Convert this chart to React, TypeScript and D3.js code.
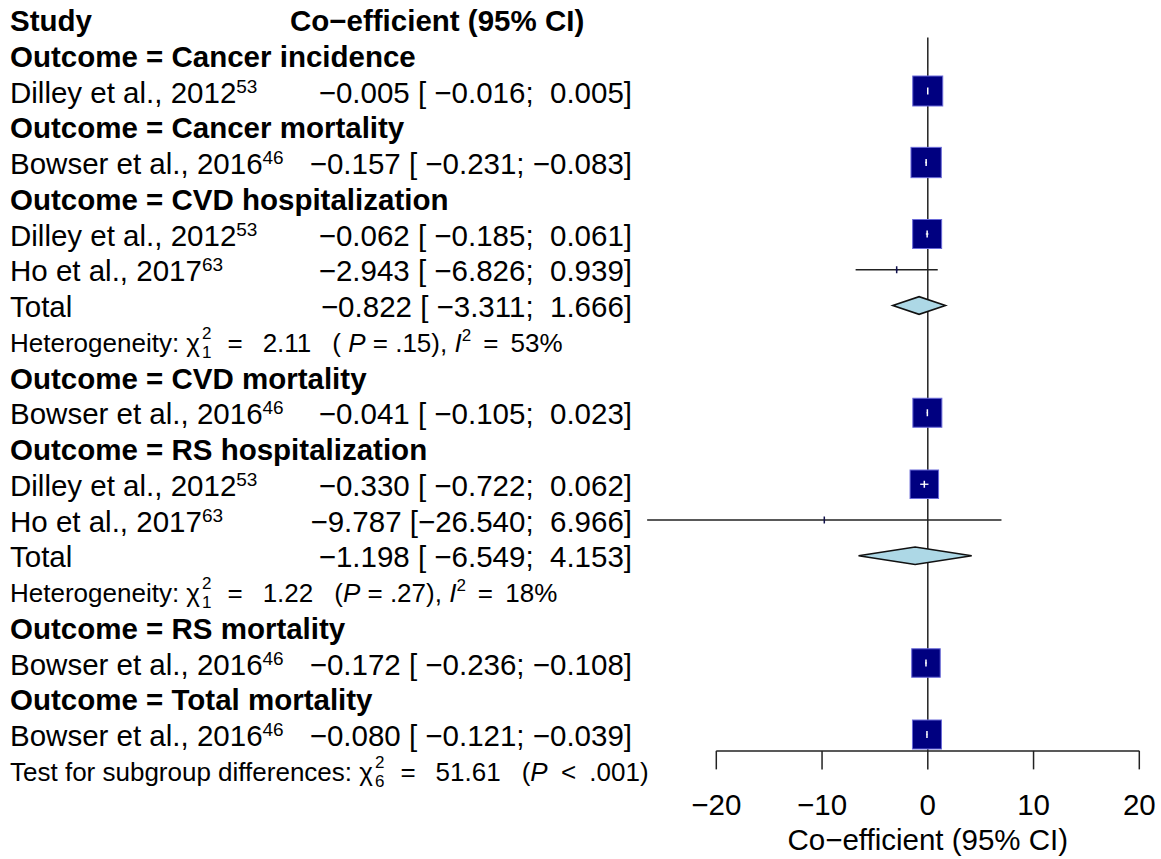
import React from "react";
import * as d3 from "d3";

// ---------- data ----------
const outcomes = [
  "Cancer incidence",
  "Cancer mortality",
  "CVD hospitalization",
  "CVD mortality",
  "RS hospitalization",
  "RS mortality",
  "Total mortality",
];
const studyNames = [
  "Dilley et al., 2012",
  "Bowser et al., 2016",
  "Dilley et al., 2012",
  "Ho et al., 2017",
  "Bowser et al., 2016",
  "Dilley et al., 2012",
  "Ho et al., 2017",
  "Bowser et al., 2016",
  "Bowser et al., 2016",
];
const studyRefs = ["53", "46", "53", "63", "46", "53", "63", "46", "46"];
const studyOutcome = [0, 1, 2, 2, 3, 4, 4, 5, 6];
const estimates = [-0.005, -0.157, -0.062, -2.943, -0.041, -0.33, -9.787, -0.172, -0.08];
const lowers = [-0.016, -0.231, -0.185, -6.826, -0.105, -0.722, -26.54, -0.236, -0.121];
const uppers = [0.005, -0.083, 0.061, 0.939, 0.023, 0.062, 6.966, -0.108, -0.039];
const weights = [98, 100, 91.6, 0.3, 91.6, 88.5, 0.05, 88.5, 91.6];

const pooledOutcome = [2, 4];
const pooledEst = [-0.822, -1.198];
const pooledLower = [-3.311, -6.549];
const pooledUpper = [1.666, 4.153];
const hetChi = ["2.11", "1.22"];
const hetDf = ["1", "1"];
const hetParen = ["( ", "("];
const hetP = [" = .15),", " = .27),"];
const hetI2 = ["53%", "18%"];

const testChi = "51.61";
const testDf = "6";
const testP = ".001)";

const xTicks = [-20, -10, 0, 10, 20];

// ---------- helpers ----------
const MINUS = "\u2212";
const f3 = (v: number) => (v < 0 ? MINUS : "") + Math.abs(v).toFixed(3);
const padL = (s: string, n: number) => (s.length >= n ? s : " ".repeat(n - s.length) + s);
const ciLabel = (e: number, lo: number, up: number) =>
  `${f3(e)} [${padL(f3(lo), 7)}; ${padL(f3(up), 6)}]`;

const FONT = "'Liberation Sans', Arial, Helvetica, sans-serif";

type Row =
  | { type: "head"; r: number; label: string }
  | { type: "study"; r: number; i: number }
  | { type: "total"; r: number; p: number }
  | { type: "het"; r: number; p: number };

const rows: Row[] = [];
{
  let r = 1;
  outcomes.forEach((o, k) => {
    rows.push({ type: "head", r: r++, label: `Outcome = ${o}` });
    studyNames.forEach((_, i) => {
      if (studyOutcome[i] === k) rows.push({ type: "study", r: r++, i });
    });
    pooledOutcome.forEach((po, p) => {
      if (po === k) {
        rows.push({ type: "total", r: r++, p });
        rows.push({ type: "het", r: r++, p });
      }
    });
  });
}
const testRow = rows.length + 1;

export default function App() {
  const W = 1161;
  const H = 859;
  const y = d3.scaleLinear().domain([0, 21]).range([19.5, 19.5 + 21 * 35.75]);
  const x = d3.scaleLinear().domain([-20, 20]).range([716.3, 1139.3]);
  const size = d3.scaleSqrt().domain([0, 100]).range([0, 30.3]);

  const axisY = y(20.5) - 1.5;
  const refTop = y(0.5);
  const lineCol = "#222";
  const fsMain = 29.5;
  const fsHet = 26;
  const fsSup = 17;
  const valueRight = 632;
  const textX = 10;
  const bShift = 11.5;

  const studyMarks = rows.filter((r) => r.type === "study") as { type: "study"; r: number; i: number }[];
  const totals = rows.filter((r) => r.type === "total") as { type: "total"; r: number; p: number }[];

  const hetText = (base: number, label: string, chi: string, df: string, tail: React.ReactNode, key: string) => (
    <text key={key} x={textX} y={base} fontSize={fsHet} style={{ whiteSpace: "pre" }} fill="#000">
      <tspan>{label} </tspan>
      <tspan>χ</tspan>
      <tspan dx={2} dy={-13} fontSize={fsSup}>2</tspan>
      <tspan dx={-9.5} dy={19} fontSize={fsSup}>{df}</tspan>
      <tspan dx={16} dy={-6}>=</tspan>
      <tspan dx={20}>{chi}</tspan>
      {tail}
    </text>
  );

  return (
    <svg
      width={W}
      height={H}
      style={{ position: "absolute", left: 0, top: 0, background: "#fff" }}
      fontFamily={FONT}
    >
      <rect x={0} y={0} width={W} height={H} fill="#fff" />

      {/* headers */}
      <text x={textX} y={y(0) + bShift} fontSize={fsMain} fontWeight="bold">Study</text>
      <text x={290} y={y(0) + bShift} fontSize={fsMain} fontWeight="bold">{`Co${MINUS}efficient (95% CI)`}</text>

      {/* left text rows */}
      {rows.map((row) => {
        const base = y(row.r) + bShift;
        if (row.type === "head") {
          return (
            <text key={"h" + row.r} x={textX} y={base} fontSize={fsMain} fontWeight="bold">
              {row.label}
            </text>
          );
        }
        if (row.type === "study") {
          const i = row.i;
          return (
            <g key={"s" + row.r}>
              <text x={textX} y={base} fontSize={fsMain}>
                {studyNames[i]}
                <tspan dy={-10} fontSize={19}>{studyRefs[i]}</tspan>
              </text>
              <text x={valueRight} y={base} fontSize={fsMain} textAnchor="end" style={{ whiteSpace: "pre" }}>
                {ciLabel(estimates[i], lowers[i], uppers[i])}
              </text>
            </g>
          );
        }
        if (row.type === "total") {
          const p = row.p;
          return (
            <g key={"t" + row.r}>
              <text x={textX} y={base} fontSize={fsMain}>Total</text>
              <text x={valueRight} y={base} fontSize={fsMain} textAnchor="end" style={{ whiteSpace: "pre" }}>
                {ciLabel(pooledEst[p], pooledLower[p], pooledUpper[p])}
              </text>
            </g>
          );
        }
        const p = row.p;
        return hetText(
          base - 1,
          "Heterogeneity:",
          hetChi[p],
          hetDf[p],
          <>
            <tspan dx={21}>{hetParen[p]}</tspan>
            <tspan fontStyle="italic">P</tspan>
            <tspan>{hetP[p] + " "}</tspan>
            <tspan fontStyle="italic">I</tspan>
            <tspan dy={-11} fontSize={fsSup}>2</tspan>
            <tspan dx={12} dy={11}>=</tspan>
            <tspan dx={5}>{" " + hetI2[p]}</tspan>
          </>,
          "het" + row.r
        );
      })}
      {hetText(
        y(testRow) + bShift - 1,
        "Test for subgroup differences:",
        testChi,
        testDf,
        <>
          <tspan dx={21}>(</tspan>
          <tspan fontStyle="italic">P</tspan>
          <tspan dx={6}>{" <"}</tspan>
          <tspan dx={6}>{" " + testP}</tspan>
        </>,
        "test"
      )}

      {/* reference line at 0 */}
      <line x1={x(0)} x2={x(0)} y1={refTop} y2={axisY} stroke={lineCol} strokeWidth={1.5} />

      {/* study CIs and squares */}
      {studyMarks.map((row) => {
        const i = row.i;
        const cy = y(row.r);
        const s = size(weights[i]);
        const cx = x(estimates[i]);
        const x0 = x(lowers[i]);
        const x1 = x(uppers[i]);
        const inside = s > 8;
        const ix0 = Math.max(x0, cx - s / 2);
        const ix1 = Math.min(x1, cx + s / 2);
        return (
          <g key={"m" + row.r}>
            <line x1={x0} x2={x1} y1={cy} y2={cy} stroke={lineCol} strokeWidth={1.5} />
            <rect x={cx - s / 2} y={cy - s / 2} width={s} height={s} fill="#000080" stroke={inside ? "#6a6ad8" : "none"} strokeWidth={1} />
            {inside && ix1 > ix0 && (
              <line x1={ix0} x2={ix1} y1={cy} y2={cy} stroke="#fff" strokeWidth={1.3} />
            )}
            <line x1={cx} x2={cx} y1={cy - 3.5} y2={cy + 3.5} stroke={inside ? "#fff" : "#10104a"} strokeWidth={1.5} />
          </g>
        );
      })}

      {/* pooled diamonds */}
      {totals.map((row) => {
        const p = row.p;
        const cy = y(row.r);
        const h = 8.8;
        const pts = [
          [x(pooledLower[p]), cy],
          [x(pooledEst[p]), cy - h],
          [x(pooledUpper[p]), cy],
          [x(pooledEst[p]), cy + h],
        ]
          .map((d) => d.join(","))
          .join(" ");
        return <polygon key={"d" + row.r} points={pts} fill="#ADD8E6" stroke="#111" strokeWidth={1.6} />;
      })}

      {/* x axis */}
      <line x1={x(-20)} x2={x(20)} y1={axisY} y2={axisY} stroke={lineCol} strokeWidth={1.5} />
      {xTicks.map((t) => (
        <g key={"tk" + t}>
          <line x1={x(t)} x2={x(t)} y1={axisY} y2={axisY + 18.5} stroke={lineCol} strokeWidth={1.5} />
          <text x={x(t)} y={815} fontSize={fsMain} textAnchor="middle">
            {t < 0 ? MINUS + Math.abs(t) : String(t)}
          </text>
        </g>
      ))}
      <text x={x(0)} y={850} fontSize={fsMain} textAnchor="middle">{`Co${MINUS}efficient (95% CI)`}</text>
    </svg>
  );
}
